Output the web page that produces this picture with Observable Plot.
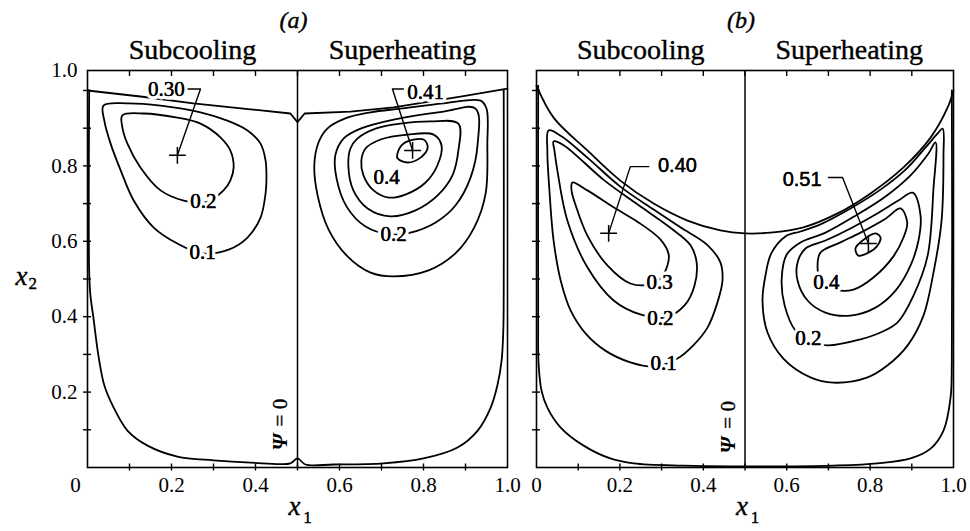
<!DOCTYPE html>
<html><head><meta charset="utf-8">
<script src="https://cdn.jsdelivr.net/npm/d3@7"></script>
<script src="https://cdn.jsdelivr.net/npm/@observablehq/plot@0.6"></script>
<style>
body{margin:0;background:#fff;}
#wrap{position:relative;width:970px;height:531px;overflow:hidden;background:#fff;}
#pa{position:absolute;left:0;top:0;width:525px;}
#pb{position:absolute;left:525px;top:0;width:445px;}
svg{overflow:visible;}
</style></head><body><div id="wrap"><div id="pa"></div><div id="pb"></div></div>
<script>
// ---------- axes / ticks ----------
const X_TICKS_MINOR = [0.1,0.2,0.3,0.4,0.5,0.6,0.7,0.8,0.9];
const Y_TICKS_MINOR = [0.1,0.2,0.3,0.4,0.5,0.6,0.7,0.8,0.9,1.0];
const X_TICK_LABELS = [0.2,0.4,0.6,0.8,1.0];
const Y_TICK_LABELS = [0.2,0.4,0.6,0.8];
const Y_TOP = 1.053;            // top edge of the drawing box
const Y_TOP_LABEL = "1.0";
const CENTER_LINE = [0.5];       // Psi = 0 dividing line
const PANEL_TITLES = ["(a)", "(b)"];
const HALF_TITLES = ["Subcooling", "Superheating"];
const HALF_X = [0.25, 0.75];

// ---------- panel (a) ----------
const A_SURFACE = [[0,1.0],[0.126,0.984],[0.252,0.966],[0.388,0.950],[0.483,0.939],[0.5,0.916],[0.517,0.939],[0.626,0.944],[0.729,0.955],[0.817,0.971],[0.888,0.984],[1.0,1.005]];
const A_WALLS = [[0.004,1.0],[0.004,0.52],[0.007,0.456],[0.014,0.398],[0.026,0.297],[0.040,0.218],[0.060,0.164],[0.095,0.098],[0.143,0.058],[0.214,0.029],[0.300,0.019],[0.388,0.013],[0.483,0.011],[0.5,0.024],[0.519,0.008],[0.586,0.008],[0.705,0.011],[0.800,0.024],[0.881,0.053],[0.929,0.098],[0.960,0.159],[0.976,0.218],[0.986,0.284],[0.990,0.363],[0.991,0.469],[0.991,1.0]];
const A_SUB_01 = [[0.038,0.960],[0.095,0.966],[0.174,0.960],[0.269,0.942],[0.333,0.920],[0.381,0.894],[0.412,0.859],[0.424,0.814],[0.426,0.761],[0.424,0.727],[0.412,0.663],[0.381,0.610],[0.336,0.578],[0.274,0.568],[0.214,0.594],[0.157,0.637],[0.110,0.708],[0.079,0.788],[0.055,0.859],[0.040,0.920]];
const A_SUB_02 = [[0.083,0.934],[0.133,0.939],[0.214,0.928],[0.269,0.912],[0.317,0.875],[0.340,0.841],[0.348,0.796],[0.340,0.761],[0.324,0.735],[0.281,0.703],[0.229,0.708],[0.174,0.735],[0.126,0.796],[0.095,0.859],[0.083,0.902]];
const A_SUP_01 = [[0.550,0.862],[0.571,0.899],[0.614,0.926],[0.674,0.942],[0.745,0.952],[0.848,0.966],[0.936,0.973],[0.950,0.952],[0.952,0.859],[0.948,0.727],[0.921,0.637],[0.876,0.568],[0.812,0.523],[0.729,0.507],[0.674,0.517],[0.619,0.560],[0.574,0.631],[0.548,0.721],[0.540,0.801]];
const A_SUP_02 = [[0.610,0.873],[0.650,0.899],[0.729,0.923],[0.848,0.944],[0.924,0.952],[0.929,0.859],[0.912,0.769],[0.876,0.695],[0.829,0.650],[0.769,0.623],[0.721,0.618],[0.662,0.639],[0.617,0.692],[0.593,0.767],[0.590,0.828]];
const A_SUP_03 = [[0.643,0.873],[0.686,0.899],[0.745,0.912],[0.817,0.918],[0.883,0.912],[0.883,0.841],[0.869,0.775],[0.833,0.721],[0.781,0.682],[0.721,0.666],[0.667,0.687],[0.633,0.735],[0.621,0.801],[0.626,0.846]];
const A_SUP_04 = [[0.662,0.846],[0.698,0.870],[0.762,0.883],[0.824,0.883],[0.843,0.854],[0.833,0.801],[0.805,0.756],[0.757,0.724],[0.717,0.716],[0.681,0.735],[0.657,0.775],[0.652,0.814]];
const A_SUP_041 = [[0.738,0.833],[0.752,0.859],[0.800,0.870],[0.810,0.849],[0.793,0.822],[0.762,0.809],[0.738,0.820]];
const A_PLUS = [[0.214,0.828],[0.774,0.841]];
const A_LEADERS = [[[0.236,1.004],[0.269,1.004],[0.214,0.828]], [[0.752,1.004],[0.726,1.004],[0.774,0.841]]];
const A_LABELS = [{x:0.274,y:0.570,t:"0.1"},{x:0.276,y:0.706,t:"0.2"},{x:0.729,y:0.618,t:"0.2"},{x:0.712,y:0.769,t:"0.4"}];
const A_PEAK_LABELS = [{x:0.188,y:1.003,t:"0.30"},{x:0.805,y:0.995,t:"0.41"}];
const A_PSI = [{y:0.045,t:"\u03A8"},{y:0.109,t:"= 0"}];

// ---------- panel (b) ----------
const B_SURFACE = [[0,1.013],[0.041,0.928],[0.122,0.841],[0.201,0.761],[0.281,0.700],[0.362,0.655],[0.441,0.629],[0.5,0.621],[0.561,0.623],[0.640,0.637],[0.722,0.674],[0.801,0.727],[0.880,0.796],[0.945,0.875],[0.986,0.955],[1.0,1.0]];
const B_WALLS = [[0.004,1.013],[0.004,0.40],[0.005,0.276],[0.012,0.204],[0.026,0.159],[0.058,0.106],[0.113,0.058],[0.177,0.024],[0.233,0.011],[0.353,0.005],[0.5,0.003],[0.592,0.003],[0.712,0.005],[0.818,0.011],[0.897,0.024],[0.945,0.050],[0.976,0.098],[0.993,0.186],[0.996,0.284],[0.996,1.0]];
const B_SUB_01 = [[0.029,0.894],[0.058,0.880],[0.122,0.822],[0.201,0.745],[0.281,0.684],[0.345,0.637],[0.410,0.590],[0.441,0.544],[0.446,0.496],[0.434,0.438],[0.410,0.371],[0.376,0.324],[0.338,0.289],[0.285,0.268],[0.225,0.279],[0.165,0.310],[0.118,0.355],[0.082,0.416],[0.058,0.496],[0.041,0.602],[0.031,0.735],[0.026,0.841]];
const B_SUB_02 = [[0.041,0.865],[0.065,0.855],[0.161,0.763],[0.242,0.698],[0.321,0.636],[0.369,0.590],[0.384,0.544],[0.379,0.483],[0.355,0.430],[0.309,0.398],[0.249,0.406],[0.185,0.443],[0.122,0.531],[0.074,0.655],[0.050,0.788],[0.043,0.841]];
const B_SUB_03 = [[0.086,0.756],[0.122,0.735],[0.185,0.690],[0.242,0.652],[0.297,0.605],[0.317,0.565],[0.314,0.536],[0.297,0.501],[0.269,0.485],[0.225,0.488],[0.170,0.536],[0.122,0.615],[0.094,0.695],[0.084,0.735]];
const B_SUP_01 = [[0.974,0.899],[0.976,0.828],[0.971,0.650],[0.952,0.517],[0.928,0.403],[0.890,0.324],[0.842,0.271],[0.794,0.239],[0.712,0.225],[0.657,0.239],[0.592,0.289],[0.554,0.358],[0.542,0.443],[0.549,0.509],[0.563,0.568],[0.597,0.613],[0.633,0.626],[0.681,0.645],[0.753,0.687],[0.825,0.737],[0.885,0.790],[0.933,0.849],[0.962,0.886]];
const B_SUP_02 = [[0.957,0.862],[0.952,0.740],[0.938,0.562],[0.904,0.456],[0.866,0.385],[0.825,0.358],[0.777,0.340],[0.698,0.324],[0.652,0.337],[0.621,0.363],[0.595,0.430],[0.588,0.501],[0.600,0.565],[0.633,0.597],[0.693,0.623],[0.765,0.668],[0.837,0.719],[0.897,0.775],[0.940,0.833]];
const B_SUP_03 = [[0.902,0.729],[0.921,0.668],[0.916,0.602],[0.897,0.536],[0.861,0.469],[0.813,0.424],[0.753,0.403],[0.693,0.411],[0.650,0.443],[0.626,0.496],[0.626,0.544],[0.645,0.581],[0.693,0.602],[0.753,0.634],[0.813,0.671],[0.868,0.708]];
const B_SUP_04 = [[0.873,0.687],[0.889,0.650],[0.880,0.610],[0.856,0.560],[0.808,0.504],[0.760,0.472],[0.717,0.472],[0.681,0.496],[0.674,0.536],[0.681,0.570],[0.729,0.597],[0.777,0.623],[0.837,0.660]];
const B_SUP_051 = [[0.772,0.562],[0.765,0.581],[0.782,0.602],[0.813,0.621],[0.825,0.610],[0.818,0.589],[0.796,0.570]];
const B_PLUS = [[0.173,0.621],[0.796,0.594]];
const B_LEADERS = [[[0.173,0.621],[0.225,0.798],[0.269,0.798]], [[0.700,0.769],[0.734,0.769],[0.796,0.594]]];
const B_LABELS = [{x:0.305,y:0.276,t:"0.1"},{x:0.297,y:0.395,t:"0.2"},{x:0.295,y:0.491,t:"0.3"},{x:0.695,y:0.491,t:"0.4"},{x:0.652,y:0.342,t:"0.2"}];
const B_PEAK_LABELS = [{x:0.338,y:0.801,t:"0.40"},{x:0.637,y:0.763,t:"0.51"}];
const B_PSI = [{y:0.037,t:"\u03A8"},{y:0.103,t:"= 0"}];

const SERIF = "'Liberation Serif','Times New Roman',serif";
const SANS = "'Liberation Sans',Arial,sans-serif";

function makePanel(p) {
  const X = d => d[0], Y = d => d[1];
  const ink = {stroke: "black", strokeWidth: 1.8, strokeLinejoin: "round", strokeLinecap: "round"};
  const heavy = {fill: "black", stroke: "black", strokeWidth: 0.4};
  const marks = [];
  for (const loop of p.loops) marks.push(Plot.line(loop, {x: X, y: Y, curve: "catmull-rom-closed", ...ink}));
  marks.push(Plot.line(p.surface, {x: X, y: Y, curve: p.surfaceCurve, ...ink}));
  marks.push(Plot.line(p.walls, {x: X, y: Y, curve: "catmull-rom", ...ink}));
  marks.push(Plot.ruleX(CENTER_LINE, {stroke: "black", strokeWidth: 1.5}));
  for (const l of p.leaders) marks.push(Plot.line(l, {x: X, y: Y, curve: "linear", stroke: "black", strokeWidth: 1.4}));
  marks.push(Plot.dot(p.plus, {x: X, y: Y, symbol: "plus", r: 5.5, stroke: "black", strokeWidth: 1.5}));
  marks.push(Plot.frame({stroke: "black", strokeWidth: 1.6}));
  // ticks
  marks.push(Plot.axisX({anchor: "bottom", ticks: X_TICKS_MINOR, tickSize: 7, dy: -3.5, tickFormat: () => "", strokeWidth: 1.4, label: null}));
  marks.push(Plot.axisX({anchor: "top", ticks: X_TICKS_MINOR, tickSize: 5, dy: 5, tickFormat: () => "", strokeWidth: 1.4, label: null}));
  marks.push(Plot.axisY({anchor: "left", ticks: Y_TICKS_MINOR, tickSize: 8, dx: 4, tickFormat: () => "", strokeWidth: 1.4, label: null}));
  // tick labels
  marks.push(Plot.axisX({anchor: "bottom", ticks: X_TICK_LABELS, tickSize: 0, tickPadding: 10, fontSize: 21, fontFamily: SERIF, tickFormat: d => d.toFixed(1), label: null, ...heavy}));
  marks.push(Plot.axisX({anchor: "bottom", ticks: [0], tickSize: 0, tickPadding: 10, fontSize: 21, fontFamily: SERIF, tickFormat: () => "0", dx: p.zeroDx, label: null, ...heavy}));
  if (p.yLabels) {
    marks.push(Plot.axisY({anchor: "left", ticks: Y_TICK_LABELS, tickSize: 0, tickPadding: 10, fontSize: 21, fontFamily: SERIF, tickFormat: d => d.toFixed(1), label: null, ...heavy}));
    marks.push(Plot.axisY({anchor: "left", ticks: [Y_TOP], tickSize: 0, tickPadding: 10, fontSize: 21, fontFamily: SERIF, tickFormat: () => Y_TOP_LABEL, label: null, ...heavy}));
    marks.push(Plot.text(["x"], {frameAnchor: "left", y: 0.5, text: d => d, dx: -72, dy: -3, fontSize: 27, fontStyle: "italic", fontFamily: SERIF, ...heavy}));
    marks.push(Plot.text(["2"], {frameAnchor: "left", y: 0.5, text: d => d, dx: -59, dy: 5, fontSize: 17, fontFamily: SERIF, ...heavy}));
  }
  // contour labels
  const halo = {stroke: "white", strokeWidth: 7, paintOrder: "stroke", fill: "black"};
  marks.push(Plot.text(p.labels, {x: "x", y: "y", text: "t", fontSize: 21, fontFamily: SERIF, ...halo}));
  marks.push(Plot.text(p.labels, {x: "x", y: "y", text: "t", fontSize: 21, fontFamily: SERIF, ...heavy}));
  marks.push(Plot.text(p.peakLabels, {x: "x", y: "y", text: "t", fontSize: p.peakSize, fontFamily: p.peakFont, ...halo}));
  marks.push(Plot.text(p.peakLabels, {x: "x", y: "y", text: "t", fontSize: p.peakSize, fontFamily: p.peakFont, fill: "black", stroke: "black", strokeWidth: 0.3}));
  // Psi = 0
  marks.push(Plot.text([p.psi[0]], {x: CENTER_LINE[0], y: "y", text: "t", rotate: -90, textAnchor: "start", dx: -17, fontSize: 21, fontStyle: "italic", fontWeight: "bold", fontFamily: SERIF, fill: "black"}));
  marks.push(Plot.text([p.psi[1]], {x: CENTER_LINE[0], y: "y", text: "t", rotate: -90, textAnchor: "start", dx: -17, fontSize: 21, fontFamily: SERIF, ...heavy}));
  // titles
  marks.push(Plot.text([p.title], {x: CENTER_LINE[0], frameAnchor: "top", text: d => d, dx: -4, dy: -60, fontSize: 24, fontStyle: "italic", fontFamily: SERIF, ...heavy}));
  marks.push(Plot.text(HALF_TITLES, {x: (d, i) => HALF_X[i], frameAnchor: "top", text: d => d, dy: -31, fontSize: 28, fontFamily: SERIF, ...heavy}));
  // x1 label
  marks.push(Plot.text(["x"], {x: CENTER_LINE[0], frameAnchor: "bottom", text: d => d, dx: -3, dy: 47, fontSize: 27, fontStyle: "italic", fontFamily: SERIF, ...heavy}));
  marks.push(Plot.text(["1"], {x: CENTER_LINE[0], frameAnchor: "bottom", text: d => d, dx: 10, dy: 55, fontSize: 17, fontFamily: SERIF, ...heavy}));

  return Plot.plot({
    width: p.width, height: 531,
    marginTop: 70, marginBottom: 64, marginLeft: p.ml, marginRight: p.mr,
    x: {domain: [0, 1], axis: null},
    y: {domain: [0, Y_TOP], axis: null},
    style: {fontFamily: SERIF, fontSize: "21px", color: "black", background: "white", overflow: "visible"},
    marks
  });
}

document.getElementById("pa").append(makePanel({
  width: 525, ml: 87, mr: 18, title: PANEL_TITLES[0], yLabels: true, zeroDx: -12,
  loops: [A_SUB_01, A_SUB_02, A_SUP_01, A_SUP_02, A_SUP_03, A_SUP_04, A_SUP_041],
  surface: A_SURFACE, surfaceCurve: "linear", walls: A_WALLS,
  leaders: A_LEADERS, plus: A_PLUS, labels: A_LABELS, peakLabels: A_PEAK_LABELS,
  peakSize: 21, peakFont: SERIF, psi: A_PSI
}));
document.getElementById("pb").append(makePanel({
  width: 445, ml: 11, mr: 17, title: PANEL_TITLES[1], yLabels: false, zeroDx: 0,
  loops: [B_SUB_01, B_SUB_02, B_SUB_03, B_SUP_01, B_SUP_02, B_SUP_03, B_SUP_04, B_SUP_051],
  surface: B_SURFACE, surfaceCurve: "catmull-rom", walls: B_WALLS,
  leaders: B_LEADERS, plus: B_PLUS, labels: B_LABELS, peakLabels: B_PEAK_LABELS,
  peakSize: 20, peakFont: SANS, psi: B_PSI
}));
</script></body></html>
